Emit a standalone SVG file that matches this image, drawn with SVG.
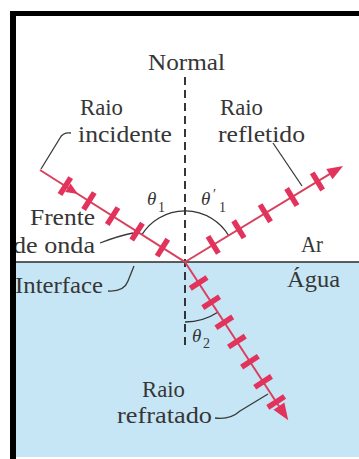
<svg xmlns="http://www.w3.org/2000/svg" width="359" height="459" viewBox="0 0 359 459">
<style>
.t{font-size:23px;fill:#363636}
.g{font-style:italic;font-size:19px;fill:#363636}
.s{font-size:14px;fill:#363636}
.ray{stroke:#d9405c;stroke-width:2;fill:none}
.tick{stroke:#e2335d;stroke-width:5.5}
.head{fill:#e2335d}
.lead{stroke:#3a3a3a;stroke-width:1.3;fill:none}
.arc{stroke:#333;stroke-width:1.3;fill:none}
</style>
<rect width="359" height="459" fill="#ffffff"/>
<g id="water"><rect x="16" y="262" width="343" height="195" fill="#c6e6f6"/></g>
<g id="interface"><line x1="16" y1="262" x2="359" y2="262" stroke="#2a2a2a" stroke-width="1.6"/></g>
<g id="normal"><line x1="185" y1="77" x2="185" y2="348" stroke="#222" stroke-width="1.8" stroke-dasharray="8,5"/></g>
<g id="angles">
<path class="arc" d="M141.9,234.7 A51,51 0 0 1 228.6,235.5"/>
<path class="arc" d="M185,322 A60,60 0 0 0 217.8,312.3"/>
</g>
<g id="connectors">
<g id="incident" transform="translate(40,170) rotate(32.4)">
<line class="ray" x1="0" y1="0" x2="172" y2="0"/>
<polygon class="head" points="45,0 33,-5 33,5"/>
<line class="tick" x1="30" y1="-10" x2="30" y2="10"/>
<line class="tick" x1="58" y1="-10" x2="58" y2="10"/>
<line class="tick" x1="86" y1="-10" x2="86" y2="10"/>
<line class="tick" x1="115" y1="-10" x2="115" y2="10"/>
<line class="tick" x1="145" y1="-10" x2="145" y2="10"/>
</g>
<g id="reflected" transform="translate(185,262) rotate(-31.3)">
<line class="ray" x1="0" y1="0" x2="174" y2="0"/>
<polygon class="head" points="185,0 169,-6 169,6"/>
<line class="tick" x1="33" y1="-10" x2="33" y2="10"/>
<line class="tick" x1="63" y1="-10" x2="63" y2="10"/>
<line class="tick" x1="94" y1="-10" x2="94" y2="10"/>
<line class="tick" x1="125" y1="-10" x2="125" y2="10"/>
<line class="tick" x1="155" y1="-10" x2="155" y2="10"/>
</g>
<g id="refracted" transform="translate(185,262) rotate(56.9)">
<line class="ray" x1="0" y1="0" x2="176" y2="0"/>
<polygon class="head" points="189,0 172,-6.5 172,6.5"/>
<line class="tick" x1="25" y1="-10" x2="25" y2="10"/>
<line class="tick" x1="48" y1="-10" x2="48" y2="10"/>
<line class="tick" x1="72" y1="-10" x2="72" y2="10"/>
<line class="tick" x1="95" y1="-10" x2="95" y2="10"/>
<line class="tick" x1="119" y1="-10" x2="119" y2="10"/>
<line class="tick" x1="143" y1="-10" x2="143" y2="10"/>
<line class="tick" x1="167" y1="-10" x2="167" y2="10"/>
</g>
<g id="leaders">
<path class="lead" d="M71,133 Q63,132 60,138 L41,169"/>
<path class="lead" d="M273,143 L302,186"/>
<path class="lead" d="M100,243 Q118,236 133,233"/>
<path class="lead" d="M108,291 Q124,292 128,281 L134,266"/>
<path class="lead" d="M215,418 Q230,420 240,411 L268,394"/>
</g>
</g>
<g id="labels" font-family="Liberation Serif, DejaVu Serif, serif">
<text class="t" x="148" y="70" textLength="77" lengthAdjust="spacingAndGlyphs">Normal</text>
<text class="t" x="80" y="115" textLength="43" lengthAdjust="spacingAndGlyphs">Raio</text>
<text class="t" x="78" y="142" textLength="94" lengthAdjust="spacingAndGlyphs">incidente</text>
<text class="t" x="220" y="115" textLength="43" lengthAdjust="spacingAndGlyphs">Raio</text>
<text class="t" x="218" y="142" textLength="87" lengthAdjust="spacingAndGlyphs">refletido</text>
<text class="t" x="30" y="225" textLength="65" lengthAdjust="spacingAndGlyphs">Frente</text>
<text class="t" x="13" y="253" textLength="82" lengthAdjust="spacingAndGlyphs">de onda</text>
<text class="t" x="301" y="252" textLength="22" lengthAdjust="spacingAndGlyphs">Ar</text>
<text class="t" x="287" y="287" textLength="53" lengthAdjust="spacingAndGlyphs">Água</text>
<text class="t" x="15" y="293" textLength="88" lengthAdjust="spacingAndGlyphs">Interface</text>
<text class="t" x="142" y="397" textLength="43" lengthAdjust="spacingAndGlyphs">Raio</text>
<text class="t" x="117" y="423" textLength="95" lengthAdjust="spacingAndGlyphs">refratado</text>
<text class="g" x="147" y="205">θ</text><text class="s" x="158" y="212">1</text>
<text class="g" x="201" y="205">θ</text><text class="s" x="213" y="199">′</text><text class="s" x="219" y="212">1</text>
<text class="g" x="192" y="342">θ</text><text class="s" x="203" y="348">2</text>
</g>
<g id="frame">
<rect x="10" y="11" width="6" height="448" fill="#000"/>
<rect x="10" y="11" width="349" height="5" fill="#000"/>
</g>
</svg>
